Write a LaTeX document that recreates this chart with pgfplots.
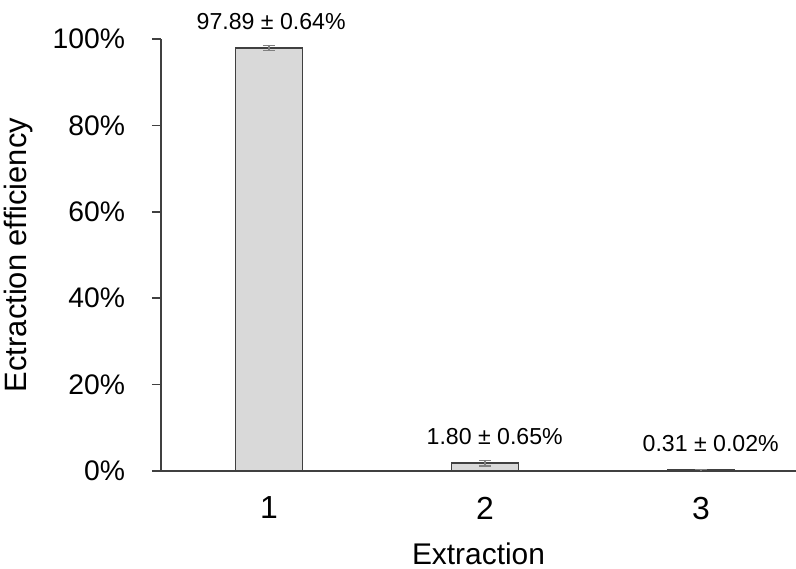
\documentclass[border=0pt]{standalone}
\usepackage{pgfplots}
\pgfplotsset{compat=1.18}
\usepackage{pgfplotstable}
\usepackage{fontspec}
\setmainfont{Liberation Sans}
\definecolor{barfill}{HTML}{D9D9D9}
\definecolor{axisgray}{HTML}{404040}
\pgfplotstableread[col sep=comma]{
x,y,e,lx,lab
1,97.89,0.64,1.01,97.89 ± 0.64\%
2,1.80,0.65,2.045,1.80 ± 0.65\%
3,0.31,0.02,3.045,0.31 ± 0.02\%
}\datatab
\begin{document}
\begin{tikzpicture}
\begin{axis}[
  scale only axis,
  width=317.5bp, height=216bp,
  xmin=0.5, xmax=3.44, ymin=0, ymax=100,
  axis x line*=bottom, axis y line*=left,
  axis line style={axisgray, line width=0.8bp, -},
  xtick={1,2,3},
  x tick style={draw=none},
  ytick={0,20,40,60,80,100},
  y tick style={axisgray, line width=0.8bp},
  tick align=outside,
  major tick length=4.5bp,
  /pgf/number format/assume math mode=true,
  yticklabel={\pgfmathprintnumber{\tick}\%},
  yticklabel style={font=\fontsize{14.2}{17}\selectfont, xshift=-10bp},
  xticklabel style={font=\fontsize{16}{19}\selectfont, yshift=-5bp},
  xlabel={Extraction},
  ylabel={Ectraction efficiency},
  xlabel style={font=\fontsize{15}{18}\selectfont, yshift=-5bp},
  ylabel style={font=\fontsize{15.5}{18}\selectfont},
  ylabel shift=3bp,
  clip=false,
]
\addplot[
  ybar, bar width=33.5bp,
  fill=barfill, draw=axisgray, line width=0.8bp,
  error bars/.cd, y dir=both, y explicit,
  error mark=|,
  error bar style={gray, line width=0.6bp},
  error mark options={gray, mark size=3bp, line width=0.6bp},
] table[x=x, y=y, y error=e] {\datatab};
\addplot[
  only marks, mark=none,
  nodes near coords,
  point meta=explicit symbolic,
  every node near coord/.append style={font=\fontsize{11.6}{13}\selectfont, anchor=south, yshift=5.5bp, text=black},
] table[x=lx, y=y, meta=lab] {\datatab};
\coordinate (sw) at (rel axis cs:0,0);
\coordinate (ne) at (rel axis cs:1,1);
\end{axis}
\pgfresetboundingbox
\path ([xshift=-80.5bp,yshift=-49bp]sw) rectangle ([yshift=19.5bp]ne);
\end{tikzpicture}
\end{document}
